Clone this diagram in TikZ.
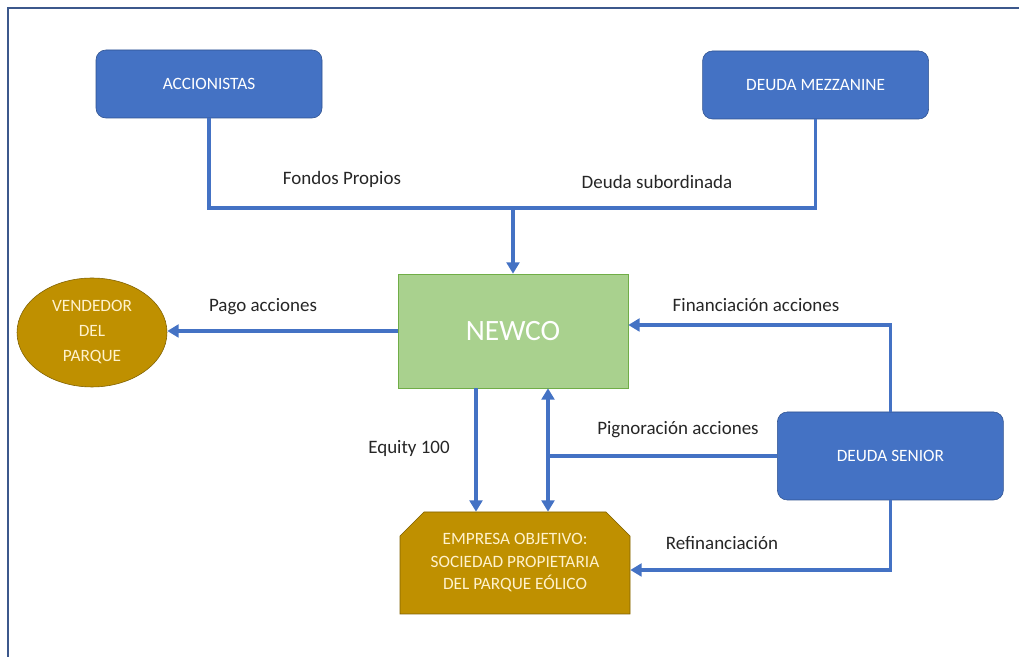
\documentclass[tikz,border=0pt]{standalone}
\usepackage{fontspec}
\setmainfont{Carlito}
\usetikzlibrary{arrows.meta,shapes.geometric,shapes.misc}
\definecolor{azul}{RGB}{68,114,196}
\definecolor{azulosc}{RGB}{47,82,143}
\definecolor{oro}{RGB}{191,144,0}
\definecolor{orosc}{RGB}{127,96,0}
\definecolor{verde}{RGB}{169,209,142}
\definecolor{verdeosc}{RGB}{112,173,71}
\definecolor{crema}{RGB}{255,242,204}
\definecolor{marco}{RGB}{60,88,140}
\definecolor{texto}{RGB}{38,38,38}
\begin{document}
\begin{tikzpicture}[
            caja/.style={draw=azulosc,fill=azul,rounded corners=7pt,text=white,
                font=\fontsize{12.3}{15}\selectfont,minimum width=5.65cm,minimum height=1.7cm},
            linea/.style={azul,line width=2.6pt},
            flecha/.style={linea,-{Triangle[width=9pt,length=8pt]}},
            etiq/.style={text=texto,font=\fontsize{13.5}{16}\selectfont}]
            \useasboundingbox (0,0) rectangle (25.475,16.425);
            \draw[marco,line width=1.4pt] (25.475,16.225)--(0.2,16.225)--(0.2,0);
            \node[caja] (acc) at (5.225,14.325) {ACCIONISTAS};
            \node[caja] (mez) at (20.39,14.3) {DEUDA MEZZANINE};
            \node[caja,minimum height=2.2cm] (senior) at (22.26,5.025) {DEUDA SENIOR};
            \node[draw=verdeosc,fill=verde,text=white,minimum width=5.75cm,minimum height=2.85cm,
                font=\fontsize{21}{24}\selectfont] (newco) at (12.825,8.15) {NEWCO};
            \node[ellipse,draw=orosc,fill=oro,text=crema,align=center,inner sep=0pt,
                minimum width=3.75cm,minimum height=2.725cm,
                font=\fontsize{12.3}{17.8}\selectfont] (vend) at (2.3,8.1125) {VENDEDOR\\DEL\\PARQUE};
            \node[chamfered rectangle,chamfered rectangle corners={north west,north east},
                chamfered rectangle xsep=0.3cm,chamfered rectangle ysep=0.3cm,
                draw=orosc,fill=oro,text=crema,align=center,
                minimum width=5.75cm,minimum height=2.55cm,
                font=\fontsize{12.3}{16}\selectfont] (empresa) at (12.875,2.35)
                {EMPRESA OBJETIVO:\\SOCIEDAD PROPIETARIA\\DEL PARQUE EÓLICO};
            \coordinate (junta) at (12.825,11.225);
            \coordinate (fin) at (22.26,8.3);
            \coordinate (pig) at (13.7,5.025);
            \coordinate (eq) at (11.9,5);
            \coordinate (ref) at (22.26,2.175);
            \draw[linea] (acc.south)--(acc.south |- junta)--(mez.south |- junta)--(mez.south);
            \draw[flecha] (junta)--(newco.north);
            \draw[flecha] (newco.west)--(newco.west -| vend.east);
            \draw[flecha] (senior.north)--(fin)--(newco.east |- fin);
            \draw[flecha] (newco.south -| eq)--(empresa.north -| eq);
            \draw[linea] (senior.west)--(pig);
            \draw[flecha] (pig)--(pig |- newco.south);
            \draw[flecha] (pig)--(pig |- empresa.north);
            \draw[flecha] (senior.south)--(ref)--(empresa.east |- ref);
            \node[etiq] (lfondos) at (8.55,11.95) {Fondos Propios};
            \node[etiq] (ldeuda) at (16.425,11.875) {Deuda subordinada};
            \node[etiq] (lpago) at (6.575,8.75) {Pago acciones};
            \node[etiq] (lfin) at (18.9,8.8) {Financiación acciones};
            \node[etiq] (lpig) at (16.95,5.675) {Pignoración acciones};
            \node[etiq] (lequity) at (10.225,5.2) {Equity 100};
            \node[etiq] (lref) at (18.05,2.85) {Refinanciación};
        \end{tikzpicture}
\end{document}
